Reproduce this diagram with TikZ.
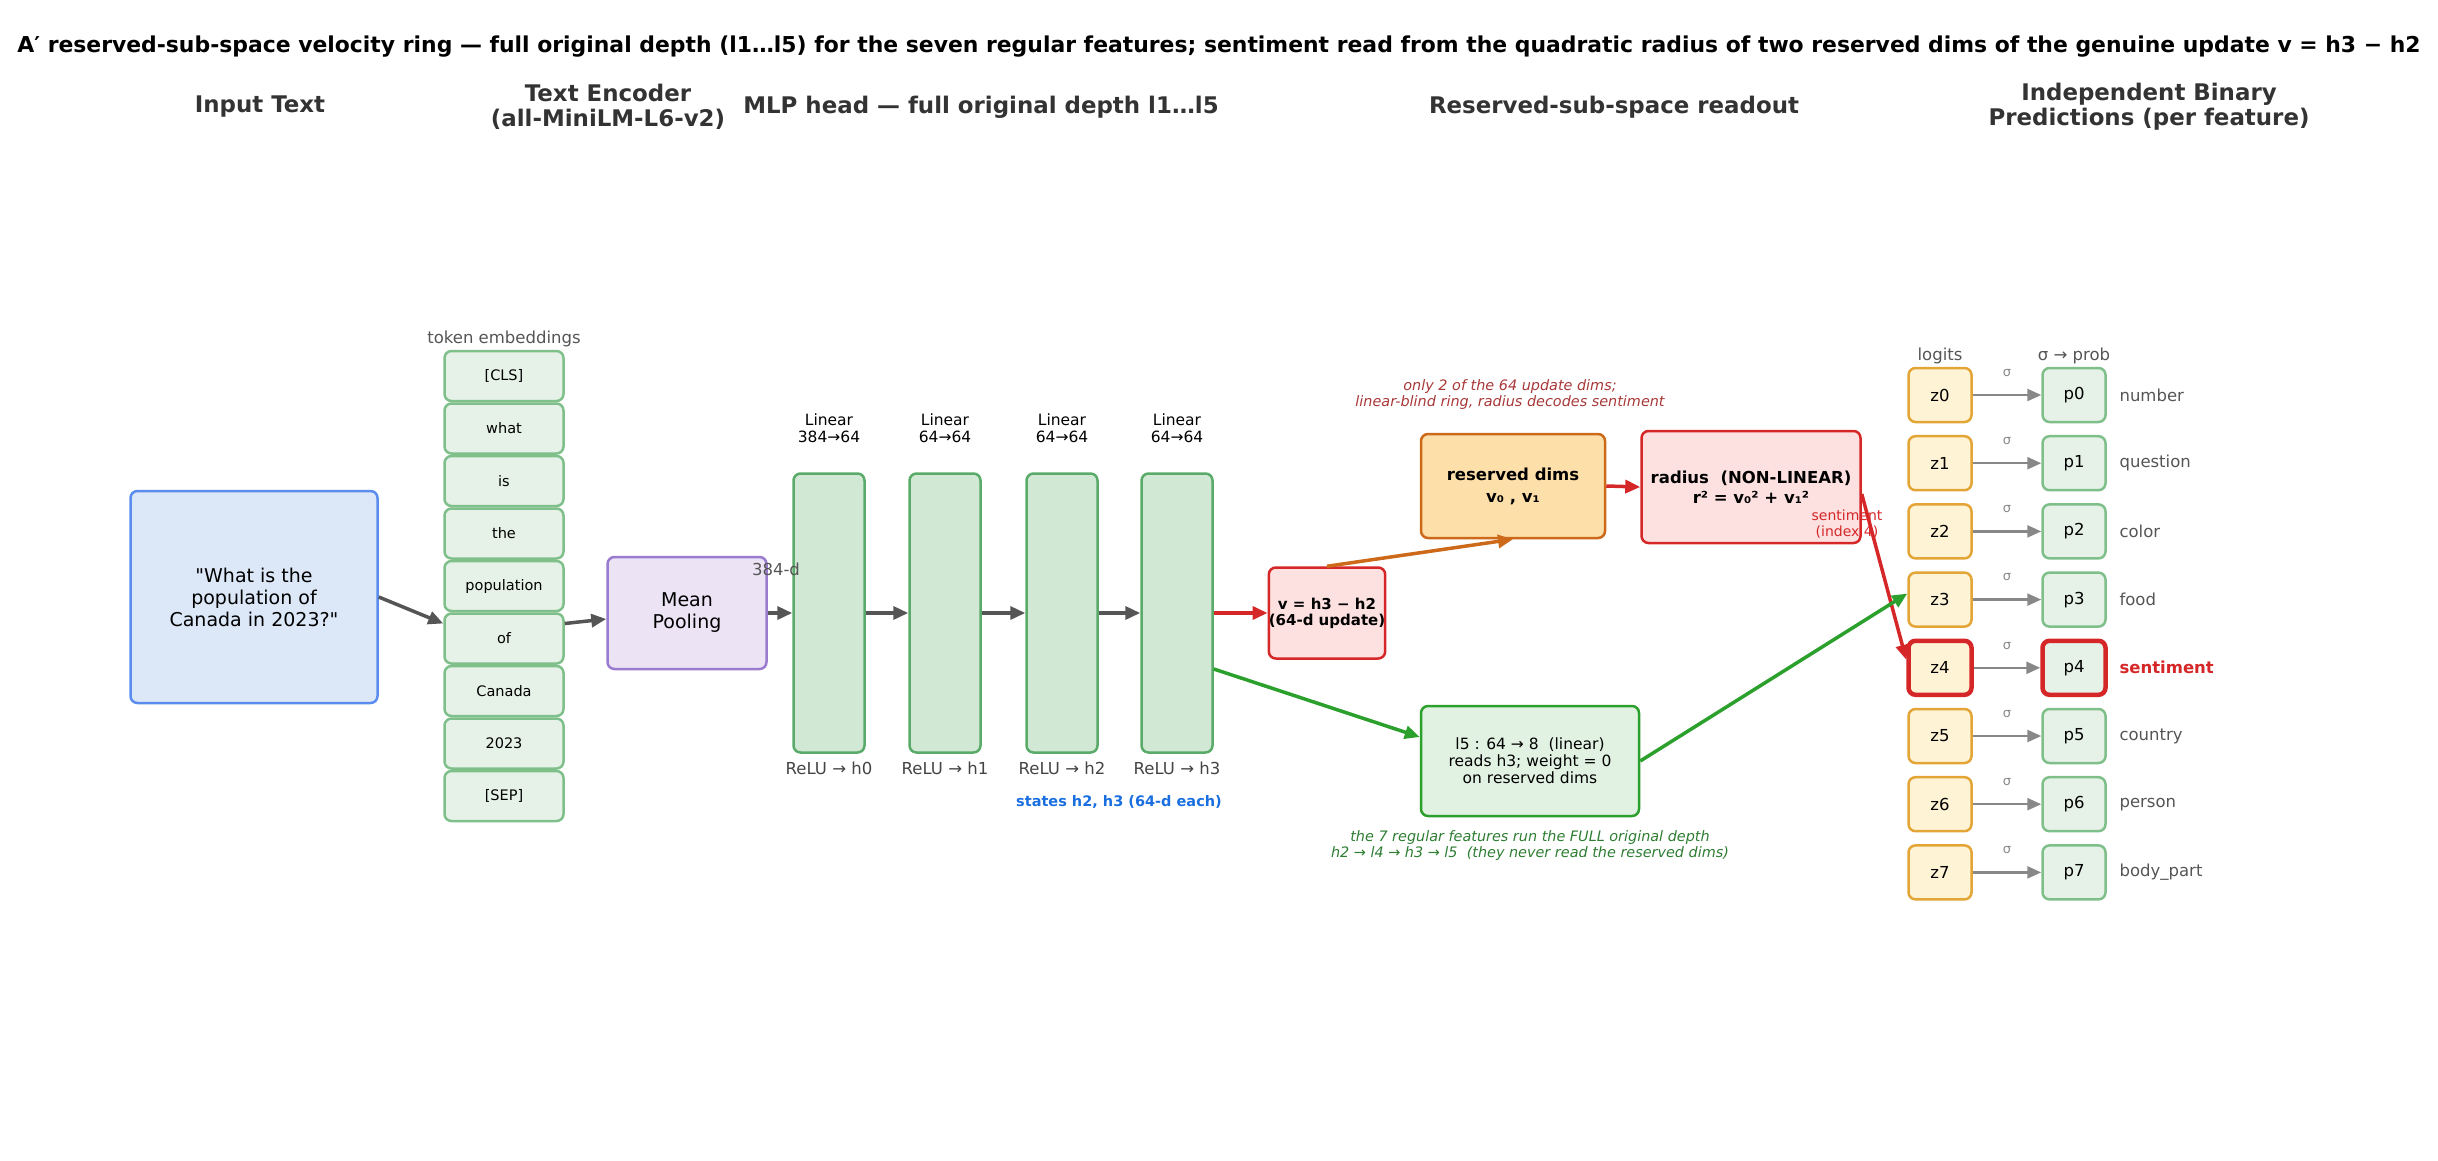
\documentclass[tikz,border=0pt]{standalone}
\usepackage{fontspec}
\setmainfont{DejaVu Sans}[Ligatures=TeXOff]
\usetikzlibrary{arrows.meta, positioning}

\definecolor{hdrgray}{HTML}{333333}
\definecolor{txtgray}{HTML}{555555}
\definecolor{relugray}{HTML}{444444}
\definecolor{siggray}{HTML}{888888}
\definecolor{inpfill}{HTML}{DCE8F8}
\definecolor{inpline}{HTML}{5B8DEF}
\definecolor{tokfill}{HTML}{E6F2E8}
\definecolor{tokline}{HTML}{7FBF8A}
\definecolor{poolfill}{HTML}{ECE4F5}
\definecolor{poolline}{HTML}{9B7BD0}
\definecolor{layfill}{HTML}{D0E8D4}
\definecolor{layline}{HTML}{5AAA6A}
\definecolor{redfill}{HTML}{FDE0E0}
\definecolor{redline}{HTML}{D62728}
\definecolor{orfill}{HTML}{FDDFAA}
\definecolor{orline}{HTML}{CC6A1A}
\definecolor{lfivefill}{HTML}{E2F2E2}
\definecolor{lfiveline}{HTML}{2CA02C}
\definecolor{logfill}{HTML}{FFF3D6}
\definecolor{logline}{HTML}{E3A535}
\definecolor{stateblue}{HTML}{1A6FE0}
\definecolor{annred}{HTML}{A83838}
\definecolor{anngreen}{HTML}{2E7D32}

\begin{document}
\begin{tikzpicture}[x=1pt, y=-1pt, on grid, node distance=52.5pt,
    box/.style={draw, rounded corners=7pt, line width=2.5pt, align=center, inner sep=0pt},
    tok/.style={box, draw=tokline, fill=tokfill, minimum width=119pt, minimum height=50pt, font=\fontsize{14.5}{17}\selectfont},
    layer/.style={box, draw=layline, fill=layfill, minimum width=71pt, minimum height=279pt},
    logit/.style={box, draw=logline, fill=logfill, minimum width=63pt, minimum height=54pt, font=\fontsize{16.5}{19}\selectfont},
    prob/.style={box, draw=tokline, fill=tokfill, minimum width=63pt, minimum height=54pt, font=\fontsize{16.5}{19}\selectfont},
    reg/.style={},
    sent/.style={draw=redline, line width=4.5pt},
    regtxt/.style={text=txtgray},
    senttxt/.style={text=redline, font=\bfseries\fontsize{16.5}{19}\selectfont},
    hdr/.style={align=center, text=hdrgray, font=\bfseries\fontsize{22.9}{25}\selectfont},
    note/.style={align=center, text=txtgray, font=\fontsize{16.5}{19}\selectfont},
    lin/.style={align=center, font=\fontsize{15.5}{16.5}\selectfont},
    ann/.style={align=center, font=\itshape\fontsize{14.4}{16}\selectfont},
    flow/.style={-{Triangle[length=15pt, width=13pt]}, line width=3.5pt, color=txtgray},
    sig/.style={-{Triangle[length=14pt, width=12pt]}, line width=2.5pt, color=siggray}
]
    \useasboundingbox (0,0) rectangle (2438,1161);

    \node[font=\bfseries\fontsize{21.9}{25}\selectfont] (title) at (1219,47)
        {A′ reserved-sub-space velocity ring — full original depth (l1…l5) for the seven regular features; sentiment read from the quadratic radius of two reserved dims of the genuine update v = h3 − h2};

    \node[hdr] (hinp) at (260,107) {Input Text};
    \node[hdr] (henc) at (608,107) {Text Encoder\\(all-MiniLM-L6-v2)};
    \node[hdr] (hmlp) at (981,107) {MLP head — full original depth l1…l5};
    \node[hdr] (hread) at (1614,107) {Reserved-sub-space readout};
    \node[hdr] (hpred) at (2149,107) {Independent Binary\\Predictions (per feature)};

    % input and encoder
    \node[box, draw=inpline, fill=inpfill, minimum width=247pt, minimum height=212pt, font=\fontsize{19}{22}\selectfont] (inp) at (254,597)
        {"What is the\\population of\\Canada in 2023?"};
    \node[note] (temb) at (504,339) {token embeddings};
    \node[tok] (t0) at (504,376) {[CLS]};
    \node[tok, below=of t0] (t1) {what};
    \node[tok, below=of t1] (t2) {is};
    \node[tok, below=of t2] (t3) {the};
    \node[tok, below=of t3] (t4) {population};
    \node[tok, below=of t4] (t5) {of};
    \node[tok, below=of t5] (t6) {Canada};
    \node[tok, below=of t6] (t7) {2023};
    \node[tok, below=of t7] (t8) {[SEP]};
    \node[box, draw=poolline, fill=poolfill, minimum width=159pt, minimum height=112pt, font=\fontsize{19}{22}\selectfont] (pool) at (687,613) {Mean\\Pooling};

    % MLP head
    \foreach \k/\x/\din in {0/829/384, 1/945/64, 2/1062/64, 3/1177/64} {
        \node[layer] (L\k) at (\x,613) {};
        \node[lin, above=185pt of L\k] (lin\k) {Linear\\\din→64};
        \node[note, text=relugray, below=155pt of L\k] (relu\k) {ReLU → h\k};
    }
    \node[note] (dim) at (776,569) {384-d};
    \node[text=stateblue, font=\bfseries\fontsize{14.5}{17}\selectfont] (states) at (1119,802) {states h2, h3 (64-d each)};

    % reserved-sub-space readout
    \node[box, draw=redline, fill=redfill, minimum width=114pt, minimum height=91pt, font=\bfseries\fontsize{15}{16}\selectfont] (v) at (1327,613) {v = h3 − h2\\(64-d update)};
    \node[box, draw=orline, fill=orfill, minimum width=184pt, minimum height=104pt, font=\bfseries\fontsize{16.5}{22}\selectfont] (res) at (1513,486) {reserved dims\\v₀ , v₁};
    \node[box, draw=redline, fill=redfill, minimum width=219pt, minimum height=112pt, font=\bfseries\fontsize{16.5}{20}\selectfont] (rad) at (1751,487) {radius\ \ (NON-LINEAR)\\r² = v₀² + v₁²};
    \node[ann, text=annred] (ann1) at (1510,395) {only 2 of the 64 update dims;\\linear-blind ring, radius decodes sentiment};
    \node[box, draw=lfiveline, fill=lfivefill, minimum width=218pt, minimum height=110pt, font=\fontsize{15.5}{17}\selectfont] (l5) at (1530,761)
        {l5 : 64 → 8\ \ (linear)\\reads h3; weight = 0\\on reserved dims};
    \node[ann, text=anngreen] (ann2) at (1530,846) {the 7 regular features run the FULL original depth\\h2 → l4 → h3 → l5\ \ (they never read the reserved dims)};
    \node[align=center, text=redline, font=\fontsize{14}{16}\selectfont] (sidx) at (1847,524) {sentiment\\(index 4)};

    % predictions
    \node[note] (hz) at (1940,356) {logits};
    \node[note] (hp) at (2074,356) {σ → prob};
    \foreach \i/\feat/\hl/\ft in {0/number/reg/regtxt, 1/question/reg/regtxt, 2/color/reg/regtxt, 3/food/reg/regtxt,
            4/sentiment/sent/senttxt, 5/country/reg/regtxt, 6/person/reg/regtxt, 7/body\_part/reg/regtxt} {
        \node[logit, \hl] (z\i) at (1940,{395+68.2*\i}) {z\i};
        \node[prob, \hl] (p\i) at (2074,{395+68.2*\i}) {p\i};
        \node[note, \ft, anchor=west] (f\i) at (2116,{395+68.2*\i}) {\feat};
        \path[sig] (z\i.east) edge node[above=14pt, font=\fontsize{13}{15}\selectfont] (s\i) {σ} (p\i.west);
    }

    \path[flow]
    (inp.east) edge ([yshift=15pt]t5.west)
    ([yshift=15pt]t5.east) edge ([yshift=-6pt]pool.west)
    (pool.east) edge (L0.west)
    (L0.east) edge (L1.west)
    (L1.east) edge (L2.west)
    (L2.east) edge (L3.west)
    (L3.east) edge [color=redline] (v.west)
    (v.north) edge [color=orline] (res.south)
    (res.east) edge [color=redline] (rad.west)
    ([yshift=-7pt]rad.east) edge [color=redline] ([yshift=8pt]z4.west)
    ([yshift=-56pt]L3.east) edge [color=lfiveline] ([yshift=24pt]l5.west)
    (l5.east) edge [color=lfiveline] ([yshift=6pt]z3.west);
\end{tikzpicture}
\end{document}
